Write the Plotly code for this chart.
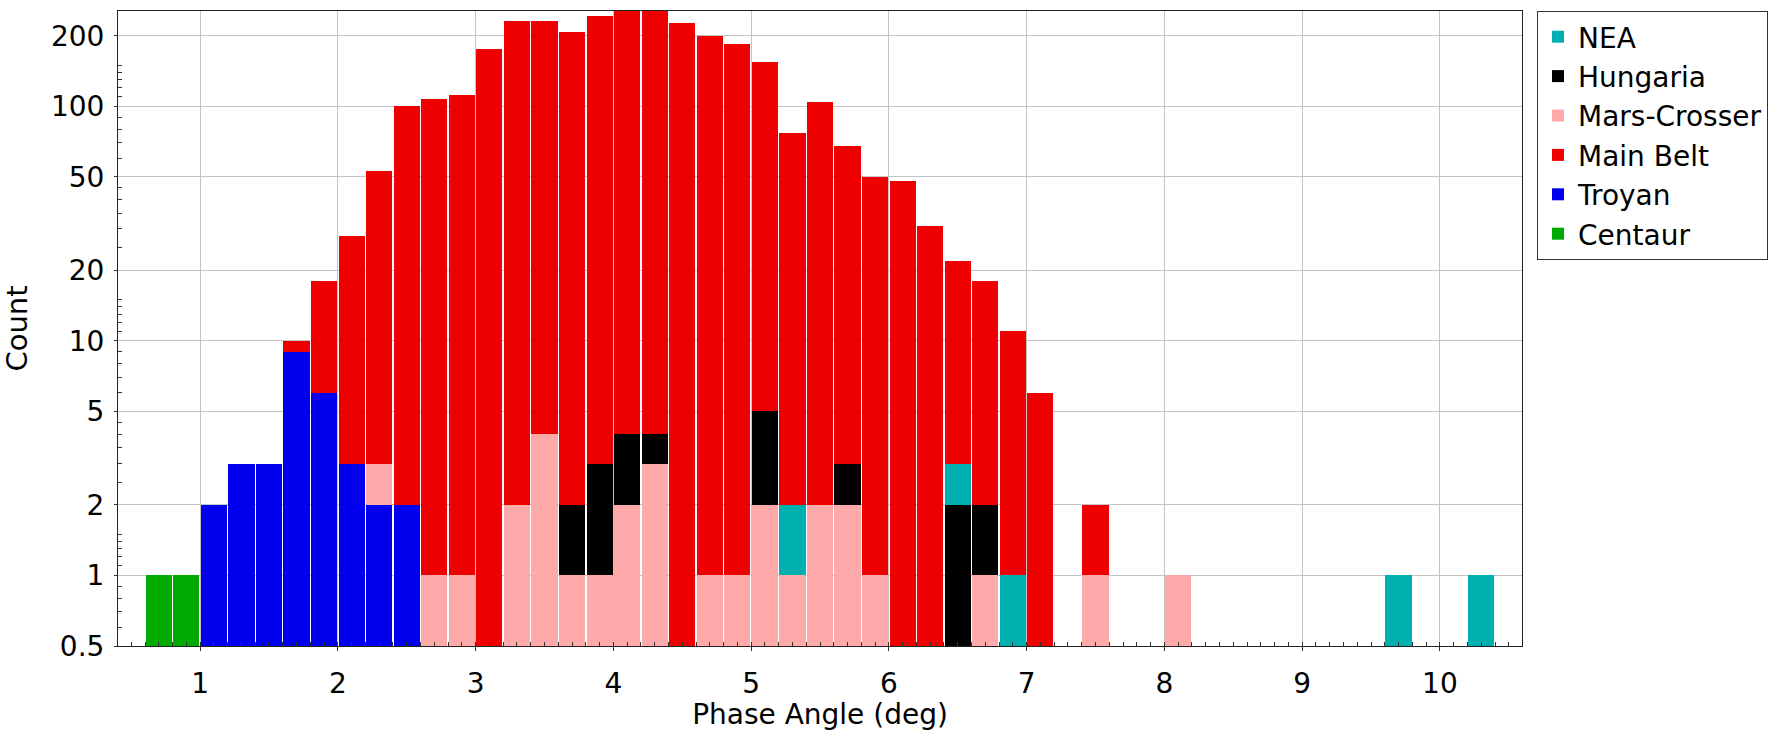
import plotly.graph_objects as go

# Histogram bins (centers, bin width 0.2 deg), from 0.6 to 10.4 deg
bin_centers = [0.7, 0.9, 1.1, 1.3, 1.5, 1.7, 1.9, 2.1, 2.3, 2.5,
               2.7, 2.9, 3.1, 3.3, 3.5, 3.7, 3.9, 4.1, 4.3, 4.5,
               4.7, 4.9, 5.1, 5.3, 5.5, 5.7, 5.9, 6.1, 6.3, 6.5,
               6.7, 6.9, 7.1, 7.3, 7.5, 7.7, 7.9, 8.1, 8.3, 8.5,
               8.7, 8.9, 9.1, 9.3, 9.5, 9.7, 9.9, 10.1, 10.3]

centaur = [1, 1, 0, 0, 0, 0, 0, 0, 0, 0,
           0, 0, 0, 0, 0, 0, 0, 0, 0, 0,
           0, 0, 0, 0, 0, 0, 0, 0, 0, 0,
           0, 0, 0, 0, 0, 0, 0, 0, 0, 0,
           0, 0, 0, 0, 0, 0, 0, 0, 0]
troyan = [0, 0, 2, 3, 3, 9, 6, 3, 2, 2,
          0, 0, 0, 0, 0, 0, 0, 0, 0, 0,
          0, 0, 0, 0, 0, 0, 0, 0, 0, 0,
          0, 0, 0, 0, 0, 0, 0, 0, 0, 0,
          0, 0, 0, 0, 0, 0, 0, 0, 0]
mars_crosser = [0, 0, 0, 0, 0, 0, 0, 0, 1, 0,
                1, 1, 0, 2, 4, 1, 1, 2, 3, 0,
                1, 1, 2, 1, 2, 2, 1, 0, 0, 0,
                1, 0, 0, 0, 1, 0, 0, 1, 0, 0,
                0, 0, 0, 0, 0, 0, 0, 0, 0]
hungaria = [0, 0, 0, 0, 0, 0, 0, 0, 0, 0,
            0, 0, 0, 0, 0, 1, 2, 2, 1, 0,
            0, 0, 3, 0, 0, 1, 0, 0, 0, 2,
            1, 0, 0, 0, 0, 0, 0, 0, 0, 0,
            0, 0, 0, 0, 0, 0, 0, 0, 0]
nea = [0, 0, 0, 0, 0, 0, 0, 0, 0, 0,
       0, 0, 0, 0, 0, 0, 0, 0, 0, 0,
       0, 0, 0, 1, 0, 0, 0, 0, 0, 1,
       0, 1, 0, 0, 0, 0, 0, 0, 0, 0,
       0, 0, 0, 0, 0, 1, 0, 0, 1]
main_belt = [0, 0, 0, 0, 0, 1, 12, 25, 50, 98,
             106, 111, 175, 230, 228, 206, 240, 256, 256, 226,
             198, 184, 150, 75, 102, 65, 49, 48, 31, 19,
             16, 10, 6, 0, 1, 0, 0, 0, 0, 0,
             0, 0, 0, 0, 0, 0, 0, 0, 0]

x_ticks = [1, 2, 3, 4, 5, 6, 7, 8, 9, 10]
y_ticks = [0.5, 1, 2, 5, 10, 20, 50, 100, 200]
y_tick_text = ["0.5", "1", "2", "5", "10", "20", "50", "100", "200"]
y_minor = [0.6, 0.7, 0.8, 0.9, 1.1, 1.2, 1.3, 1.4, 1.5, 2.5, 3, 3.5, 4, 4.5,
           6, 7, 8, 9, 11, 12, 13, 14, 15, 25, 30, 35, 40, 45,
           60, 70, 80, 90, 110, 120, 130, 140, 150]

# stacking order bottom -> top, with legend rank
series = [
    ("Centaur", centaur, "rgb(0,170,0)", 6),
    ("Troyan", troyan, "rgb(0,0,238)", 5),
    ("Mars-Crosser", mars_crosser, "rgb(255,170,170)", 3),
    ("Hungaria", hungaria, "rgb(0,0,0)", 2),
    ("NEA", nea, "rgb(0,176,176)", 1),
    ("Main Belt", main_belt, "rgb(238,0,0)", 4),
]

FONT = "DejaVu Sans"

fig = go.Figure()
for name, vals, color, rank in series:
    fig.add_trace(go.Bar(
        x=bin_centers, y=vals, name=name, width=0.19,
        marker=dict(color=color, line=dict(width=0)),
        legendrank=rank,
    ))

fig.update_layout(
    width=1768, height=731,
    barmode="stack",
    paper_bgcolor="white", plot_bgcolor="white",
    margin=dict(l=118, r=246, t=11, b=85, autoexpand=False),
    font=dict(family=FONT, size=28, color="black"),
    showlegend=True,
    legend=dict(
        x=1.0107, y=1.0, xanchor="left", yanchor="top",
        bgcolor="white", bordercolor="#333333", borderwidth=1,
        font=dict(family=FONT, size=28, color="black"),
        traceorder="normal", itemwidth=30,
    ),
    xaxis=dict(
        range=[0.404, 10.596], tickmode="array", tickvals=x_ticks,
        ticks="outside", ticklen=4, tickcolor="#333333",
        showgrid=True, gridcolor="#c4c4c4", gridwidth=1,
        showline=True, linecolor="#222222", linewidth=1, mirror=True,
        zeroline=False, automargin=False,
        tickfont=dict(family=FONT, size=28),
        ticklabelstandoff=8,
        minor=dict(dtick=0.1, tick0=0, ticks="inside", ticklen=4,
                   tickcolor="#333333", showgrid=False),
        title=dict(text="Phase Angle (deg)", standoff=12,
                   font=dict(family=FONT, size=28)),
    ),
    yaxis=dict(
        type="log", range=[-0.30103, 2.4065],
        tickmode="array", tickvals=y_ticks, ticktext=y_tick_text,
        ticks="outside", ticklen=3, tickcolor="#333333",
        showgrid=True, gridcolor="#c4c4c4", gridwidth=1,
        showline=True, linecolor="#222222", linewidth=1, mirror=True,
        zeroline=False, automargin=False,
        tickfont=dict(family=FONT, size=28),
        ticklabelstandoff=4,
        minor=dict(tickmode="array", tickvals=y_minor, ticks="inside",
                   ticklen=4, tickcolor="#333333", showgrid=False),
        title=dict(text="Count", standoff=14,
                   font=dict(family=FONT, size=29)),
    ),
)

fig.write_html("out.html")
